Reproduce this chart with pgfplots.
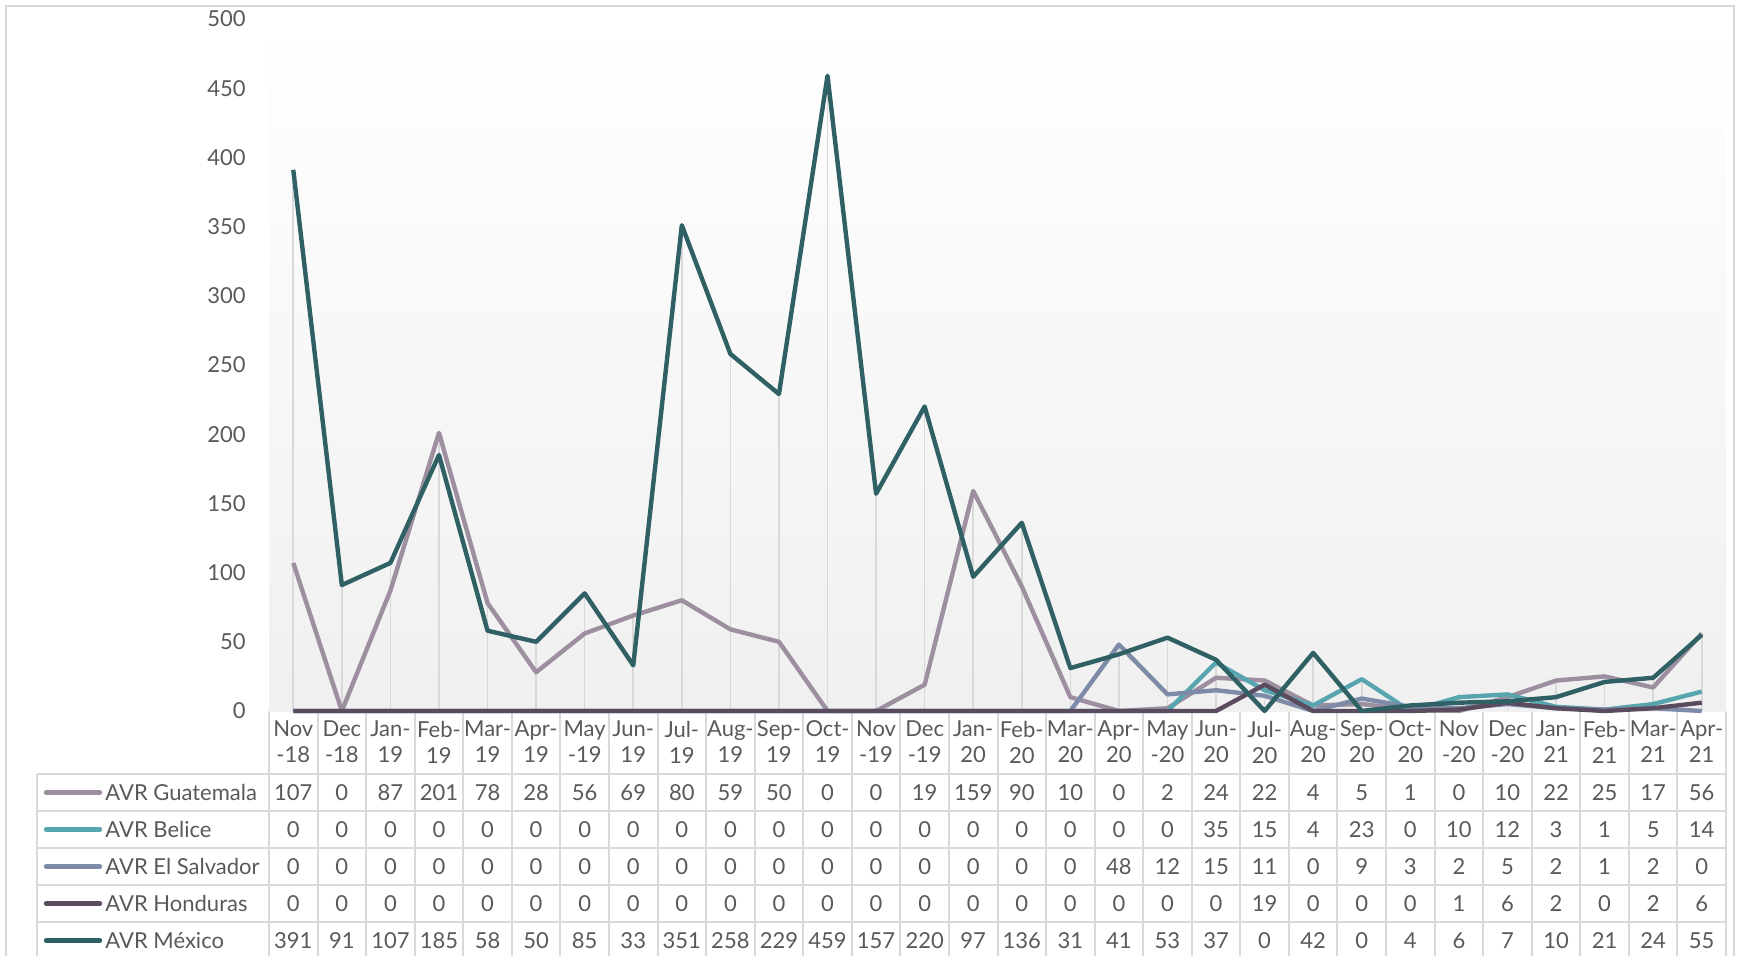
\documentclass[border=0pt]{standalone}
\usepackage{fontspec}
\setmainfont{Lato}
\usepackage{pgfplots}
\usepackage{pgfplotstable}
\pgfplotsset{compat=1.18}
\definecolor{cG}{HTML}{9D8EA0}
\definecolor{cB}{HTML}{56A5AF}
\definecolor{cS}{HTML}{7E8BA8}
\definecolor{cH}{HTML}{5A4B5E}
\definecolor{cM}{HTML}{2E6064}
\definecolor{grid}{HTML}{D9D9D9}
\definecolor{txt}{HTML}{595959}
\pgfplotstableread{
idx G B S H M
0 107 0 0 0 391
1 0 0 0 0 91
2 87 0 0 0 107
3 201 0 0 0 185
4 78 0 0 0 58
5 28 0 0 0 50
6 56 0 0 0 85
7 69 0 0 0 33
8 80 0 0 0 351
9 59 0 0 0 258
10 50 0 0 0 229
11 0 0 0 0 459
12 0 0 0 0 157
13 19 0 0 0 220
14 159 0 0 0 97
15 90 0 0 0 136
16 10 0 0 0 31
17 0 0 48 0 41
18 2 0 12 0 53
19 24 35 15 0 37
20 22 15 11 19 0
21 4 4 0 0 42
22 5 23 9 0 0
23 1 0 3 0 4
24 0 10 2 1 6
25 10 12 5 6 7
26 22 3 2 2 10
27 25 1 1 0 21
28 17 5 2 2 24
29 56 14 0 6 55
}\data
\newcommand{\tf}{\fontsize{11}{13}\selectfont}
\begin{document}
\begin{tikzpicture}[x=0.5pt,y=0.5pt]
\path[use as bounding box] (0,0) rectangle (1737,955);
\draw[grid, line width=1pt] (6,-20) -- (6,949) -- (1734,949) -- (1734,-20);
% table grid (pixel coordinates, y measured from bottom)
\begin{scope}[grid, line width=1pt]
\draw (269,244) -- (1726,244);
\foreach \y in {181,144,107,70,33} \draw (37,\y) -- (1726,\y);
\foreach \k in {0,...,30} \draw ({269+\k*48.567},244) -- ({269+\k*48.567},-10);
\draw (37,181) -- (37,-10);
\end{scope}
\begin{axis}[
  at={(134.5pt,122pt)}, anchor=south west,
  scale only axis, width=728.5pt, height=346pt,
  xmin=-0.5, xmax=29.5, ymin=0, ymax=500,
  clip=false,
  axis line style={draw=none},
  tick style={draw=none},
  axis background/.style={shade, top color=white, bottom color=black!6},
  ytick={0,50,...,500},
  yticklabel style={anchor=east, inner sep=0pt, xshift=-11.5pt, font=\tf, text=txt},
  /pgf/number format/assume math mode=true,
  xtick={0,...,29},
  xticklabels={{Nov\\-18},{Dec\\-18},{Jan-\\19},{Feb-\\19},{Mar-\\19},{Apr-\\19},{May\\-19},{Jun-\\19},{Jul-\\19},{Aug-\\19},{Sep-\\19},{Oct-\\19},{Nov\\-19},{Dec\\-19},{Jan-\\20},{Feb-\\20},{Mar-\\20},{Apr-\\20},{May\\-20},{Jun-\\20},{Jul-\\20},{Aug-\\20},{Sep-\\20},{Oct-\\20},{Nov\\-20},{Dec\\-20},{Jan-\\21},{Feb-\\21},{Mar-\\21},{Apr-\\21}},
  xticklabel style={anchor=center, align=center, inner sep=0pt, yshift=-15.5pt, font=\tf, text=txt},
  nodes near coords style={anchor=center, inner sep=0pt, font=\tf, text=txt},
]
\addplot[ycomb, draw=grid, line width=0.8pt, forget plot] table[x=idx, y expr={max(\thisrow{G},\thisrow{B},\thisrow{S},\thisrow{H},\thisrow{M})}] {\data};
\addplot[cG, line width=2.2pt, line join=round, forget plot] table[x=idx, y=G] {\data};
\addplot[cB, line width=2.2pt, line join=round, forget plot] table[x=idx, y=B] {\data};
\addplot[cS, line width=2.2pt, line join=round, forget plot] table[x=idx, y=S] {\data};
\addplot[cH, line width=2.2pt, line join=round, forget plot] table[x=idx, y=H] {\data};
\addplot[cM, line width=2.2pt, line join=round, forget plot] table[x=idx, y=M] {\data};
\addplot[draw=none, nodes near coords, point meta=explicit symbolic, forget plot] table[x=idx, y expr=-58.89, meta=G] {\data};
\addplot[draw=none, nodes near coords, point meta=explicit symbolic, forget plot] table[x=idx, y expr=-85.62, meta=B] {\data};
\addplot[draw=none, nodes near coords, point meta=explicit symbolic, forget plot] table[x=idx, y expr=-112.36, meta=S] {\data};
\addplot[draw=none, nodes near coords, point meta=explicit symbolic, forget plot] table[x=idx, y expr=-139.09, meta=H] {\data};
\addplot[draw=none, nodes near coords, point meta=explicit symbolic, forget plot] table[x=idx, y expr=-165.82, meta=M] {\data};
\end{axis}
% legend keys
\foreach \c/\y/\t in {cG/162.5/AVR Guatemala, cB/125.5/AVR Belice, cS/88.5/AVR El Salvador, cH/51.5/AVR Honduras, cM/14.5/AVR México}{
  \draw[\c, line width=2.2pt, line cap=round] (46,\y) -- (100,\y);
  \node[anchor=west, inner sep=0pt, font=\tf, text=txt] at (105,\y) {\t};
}
\end{tikzpicture}
\end{document}
